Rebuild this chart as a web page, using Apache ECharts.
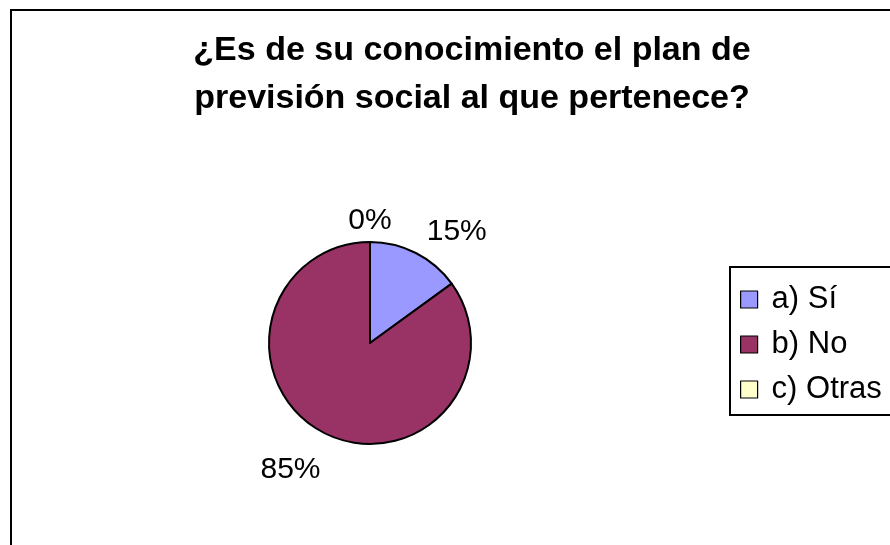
<!DOCTYPE html>
<html>
<head>
<meta charset="utf-8">
<script src="https://cdn.jsdelivr.net/npm/echarts@6/dist/echarts.min.js"></script>
<style>
html,body{margin:0;padding:0;background:#fff;}
#chart{width:890px;height:545px;}
</style>
</head>
<body>
<div id="chart"></div>
<script>
const titleText = '¿Es de su conocimiento el plan de\nprevisión social al que pertenece?';
const categories = ['a) Sí', 'b) No', 'c) Otras'];
const values = [15, 85, 0];
const colors = ['#9999FF', '#993366', '#FFFFCC'];

const FONT = '"Liberation Sans", Arial, sans-serif';
const chart = echarts.init(document.getElementById('chart'));

const labelTweaks = [
  { lineLen: 24, dist: 0, align: null },
  { lineLen: 41, dist: -15, align: null },
  { lineLen: 21, dist: 0, align: 'center' }
];

chart.setOption({
  animation: false,
  backgroundColor: '#ffffff',
  graphic: [{
    type: 'rect',
    shape: { x: 11, y: 10, width: 900, height: 560 },
    style: { fill: 'none', stroke: '#000', lineWidth: 2 },
    silent: true
  }],
  title: {
    text: titleText,
    left: 467,
    top: 22,
    textAlign: 'center',
    textStyle: { fontFamily: FONT, fontWeight: 'bold', fontSize: 34, lineHeight: 48, color: '#000' }
  },
  legend: {
    orient: 'vertical',
    left: 730,
    top: 267,
    padding: [17, 40, 10, 10],
    itemGap: 14,
    itemWidth: 17,
    itemHeight: 17,
    icon: 'rect',
    borderColor: '#000',
    borderWidth: 2,
    borderRadius: 0,
    data: categories,
    itemStyle: { borderColor: '#000', borderWidth: 1.2 },
    textStyle: { fontFamily: FONT, fontSize: 31, lineHeight: 31, color: '#000', padding: [0, 0, 0, 9] }
  },
  series: [{
    type: 'pie',
    center: [370, 343],
    radius: 101,
    startAngle: 90,
    clockwise: true,
    avoidLabelOverlap: false,
    stillShowZeroSum: true,
    itemStyle: { borderColor: '#000', borderWidth: 2 },
    label: {
      show: true,
      position: 'outside',
      formatter: '{d}%',
      fontFamily: FONT,
      fontSize: 30,
      color: '#000'
    },
    labelLine: { show: false, length2: 0 },
    labelLayout: function (p) {
      const t = labelTweaks[p.dataIndex];
      if (t && t.align) return { align: t.align };
      return {};
    },
    emphasis: { disabled: true },
    data: categories.map(function (c, i) {
      return {
        name: c,
        value: values[i],
        itemStyle: { color: colors[i] },
        label: { distanceToLabelLine: labelTweaks[i].dist },
        labelLine: { length: labelTweaks[i].lineLen }
      };
    })
  }]
});
</script>
</body>
</html>
